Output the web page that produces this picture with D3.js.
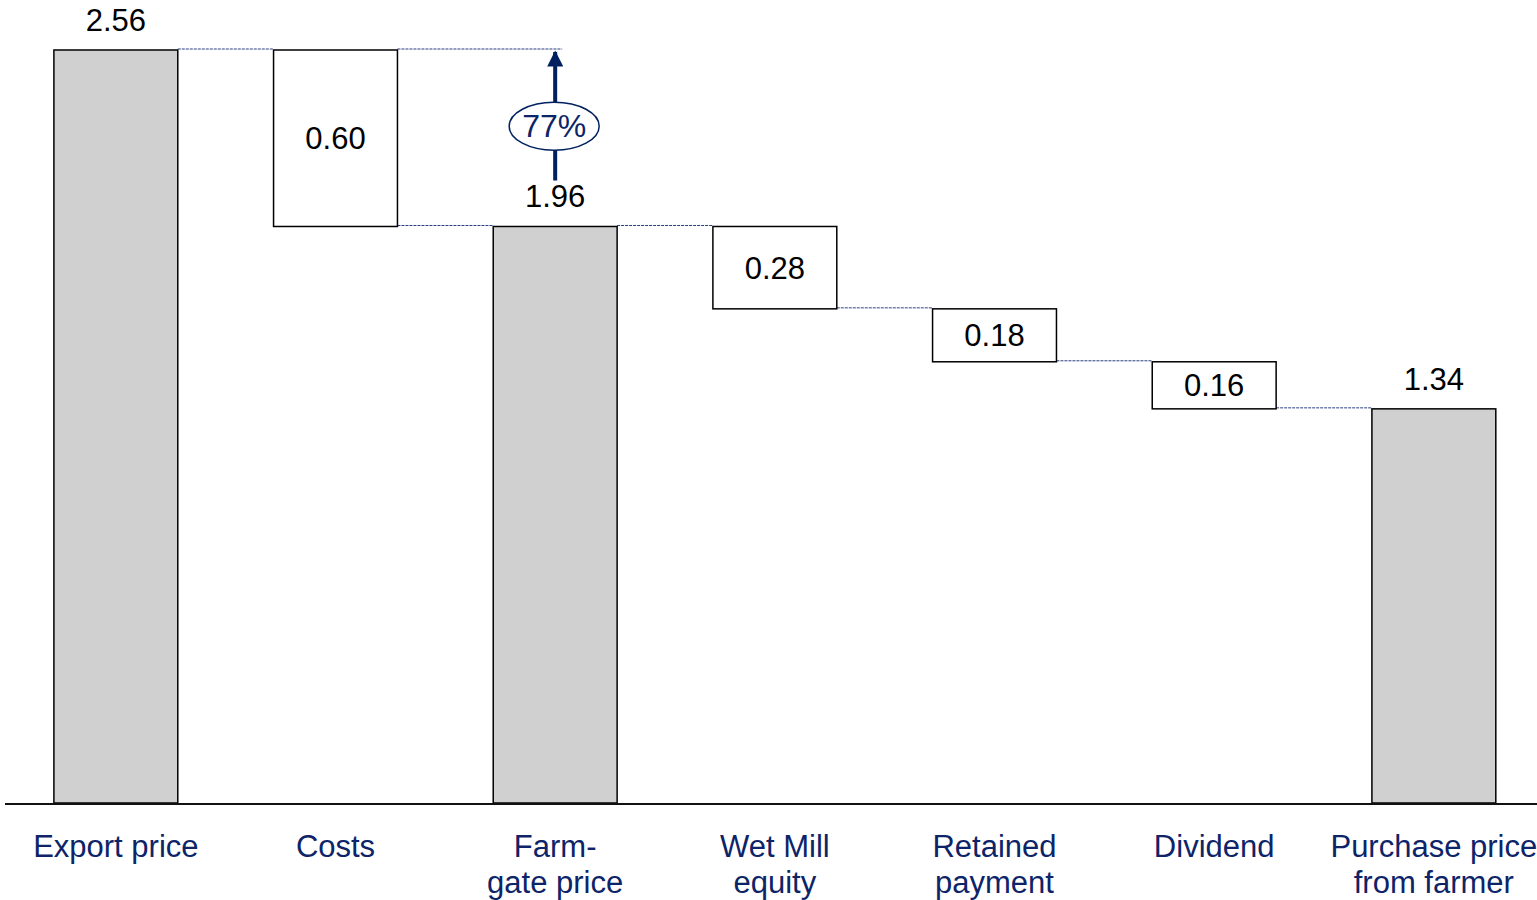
<!DOCTYPE html>
<html><head>
<meta charset="utf-8">
<style>
body { margin: 0; background: #fff; }
text { font-family: "Liberation Sans", Arial, sans-serif; }
</style>
</head><body>
<script src="https://d3js.org/d3.v7.min.js"></script>
<script>

var categories = [["Export price"], ["Costs"], ["Farm-", "gate price"], ["Wet Mill", "equity"],
                  ["Retained", "payment"], ["Dividend"], ["Purchase price", "from farmer"]];
var values = [2.56, 0.60, 1.96, 0.28, 0.18, 0.16, 1.34];
var kinds = ["total", "step", "total", "step", "step", "step", "total"];
var share = "77%";

var width = 1537, height = 900,
    baseY = 803, topY = 50, step = 219.67;
var navy = "#0d2468";

// work out start / end of every block
var run = 0;
var blocks = values.map(function(v, i) {
  var b;
  if (kinds[i] == "total") { b = {lo: 0, hi: v}; run = v; }
  else { b = {lo: run - v, hi: run}; run = run - v; }
  b.v = v; b.i = i; b.kind = kinds[i];
  return b;
});

var x = d3.scaleBand()
    .domain(d3.range(values.length))
    .range([6, 6 + step * values.length])
    .paddingInner(0.436)
    .paddingOuter(0.218);

var y = d3.scaleLinear()
    .domain([0, values[0]])
    .range([baseY, topY]);

var svg = d3.select("body").append("svg")
    .attr("width", width)
    .attr("height", height);

// dashed connectors between blocks
var conn = [];
blocks.forEach(function(b, i) {
  if (i == blocks.length - 1) return;
  conn.push({x1: x(i) + x.bandwidth(), x2: x(i + 1), v: blocks[i + 1].hi});
});
// extra line out to the arrow
conn.push({x1: x(1) + x.bandwidth(), x2: x(2) + x.bandwidth() / 2 + 7, v: values[0]});

svg.selectAll("line.conn")
    .data(conn)
  .enter().append("line")
    .attr("class", "conn")
    .attr("x1", function(d) { return d.x1; })
    .attr("x2", function(d) { return d.x2; })
    .attr("y1", function(d) { return y(d.v) - 1; })
    .attr("y2", function(d) { return y(d.v) - 1; })
    .style("stroke", "#2a3f80")
    .style("stroke-width", 1)
    .style("stroke-dasharray", "3,1");

svg.selectAll("rect.block")
    .data(blocks)
  .enter().append("rect")
    .attr("class", "block")
    .attr("x", function(d) { return x(d.i); })
    .attr("width", x.bandwidth())
    .attr("y", function(d) { return y(d.hi); })
    .attr("height", function(d) { return y(d.lo) - y(d.hi); })
    .style("fill", function(d) { return d.kind == "total" ? "#d0d0d0" : "#fff"; })
    .style("stroke", "#000")
    .style("stroke-width", 1.5);

// values
svg.selectAll("text.val")
    .data(blocks)
  .enter().append("text")
    .attr("class", "val")
    .attr("x", function(d) { return x(d.i) + x.bandwidth() / 2; })
    .attr("y", function(d) {
      return d.kind == "total" ? y(d.hi) - 19 : (y(d.hi) + y(d.lo)) / 2 + 11;
    })
    .attr("text-anchor", "middle")
    .style("font-size", "31px")
    .style("fill", "#000")
    .text(function(d) { return d.v.toFixed(2); });

// baseline
svg.append("line")
    .attr("x1", 5).attr("x2", width)
    .attr("y1", y(0) + 1).attr("y2", y(0) + 1)
    .style("stroke", "#111")
    .style("stroke-width", 2);

// category labels
var lab = svg.selectAll("text.cat")
    .data(categories)
  .enter().append("text")
    .attr("class", "cat")
    .attr("text-anchor", "middle")
    .style("font-size", "31px")
    .style("fill", navy);
lab.selectAll("tspan")
    .data(function(d, i) { return d.map(function(s) { return {s: s, i: i}; }); })
  .enter().append("tspan")
    .attr("x", function(d) { return x(d.i) + x.bandwidth() / 2; })
    .attr("y", function(d, j) { return 857 + j * 36; })
    .text(function(d) { return d.s; });

// arrow with percentage
var ax = x(2) + x.bandwidth() / 2;
svg.append("defs").append("marker")
    .attr("id", "head")
    .attr("viewBox", "0 0 10 10")
    .attr("refX", 9).attr("refY", 5)
    .attr("markerWidth", 4.5).attr("markerHeight", 4)
    .attr("markerUnits", "strokeWidth")
    .attr("orient", "auto")
  .append("path")
    .attr("d", "M0,0L10,5L0,10Z")
    .style("fill", "#002060");

svg.append("line")
    .attr("x1", ax).attr("x2", ax)
    .attr("y1", y(values[2]) - 46).attr("y2", y(values[0]) + 2)
    .style("stroke", "#002060")
    .style("stroke-width", 4)
    .attr("marker-end", "url(#head)");

var ey = (y(values[0]) + y(values[2]) - 46) / 2 + 11;
svg.append("ellipse")
    .attr("cx", ax - 1).attr("cy", ey)
    .attr("rx", 45).attr("ry", 24)
    .style("fill", "#fff")
    .style("stroke", "#002060")
    .style("stroke-width", 1.5);

svg.append("text")
    .attr("x", ax - 1).attr("y", ey + 11)
    .attr("text-anchor", "middle")
    .style("font-size", "32px")
    .style("fill", "#0d2468")
    .text(share);

</script>
</body></html>
